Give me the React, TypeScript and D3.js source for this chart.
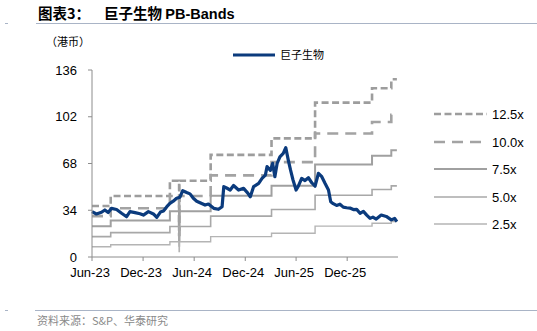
import React from "react";
import * as d3 from "d3";

// ---------- DATA ----------
const priceDates = [
  "2023-06-01","2023-06-17","2023-07-05","2023-07-17","2023-07-29","2023-08-10","2023-08-28","2023-09-15",
  "2023-10-03","2023-10-15","2023-11-02","2023-11-20","2023-12-02","2023-12-20","2024-01-07","2024-01-19",
  "2024-02-01","2024-02-12","2024-02-24","2024-03-06","2024-03-18","2024-03-30","2024-04-11","2024-04-21",
  "2024-05-05","2024-05-17","2024-05-29","2024-06-10","2024-06-22","2024-07-10","2024-07-22","2024-08-10",
  "2024-08-27","2024-09-09","2024-09-15","2024-09-27","2024-10-08","2024-10-20","2024-11-07","2024-11-25",
  "2024-12-10","2024-12-19","2024-12-31","2025-01-18","2025-01-30","2025-02-11","2025-02-17","2025-03-01",
  "2025-03-09","2025-03-17","2025-03-25","2025-04-04","2025-04-16","2025-04-25","2025-05-04","2025-05-12",
  "2025-05-21","2025-06-01","2025-06-09","2025-06-21","2025-07-03","2025-07-15","2025-07-27","2025-08-08",
  "2025-08-20","2025-09-01","2025-09-13","2025-09-25","2025-10-03","2025-10-12","2025-10-24","2025-11-05",
  "2025-11-17","2025-11-29","2025-12-11","2025-12-23","2026-01-04","2026-01-16","2026-01-28","2026-02-09",
  "2026-02-21","2026-03-03","2026-03-15","2026-04-02","2026-04-20","2026-05-08","2026-05-20","2026-05-28"
];
const priceValues = [
  33.0,31.3,32.5,34.2,32.3,35.4,34.5,31.8,
  29.3,33.0,32.3,31.5,30.5,33.0,31.3,28.8,
  32.7,33.5,36.6,39.0,40.6,42.7,43.5,48.2,
  46.9,45.9,42.7,40.6,39.5,37.8,38.5,35.4,
  34.7,36.6,51.2,50.0,48.7,52.0,48.7,49.9,
  46.5,43.8,51.2,53.6,57.2,59.6,65.7,63.0,
  68.1,58.4,68.0,72.9,75.4,79.5,70.5,63.3,
  56.0,48.7,51.5,57.2,55.6,57.7,54.0,51.5,
  60.9,58.4,53.4,48.7,40.2,38.8,37.5,38.4,
  36.3,35.8,35.6,34.5,34.6,31.8,33.2,30.5,
  28.1,29.0,27.6,30.5,29.5,27.0,28.0,25.7
];

// book value per share steps (HKD)
const bvpsDates = ["2023-06-01","2023-08-07","2024-03-06","2024-04-08","2024-04-09","2024-07-30","2025-03-05","2025-08-08","2026-02-28","2026-05-08","2026-05-28"];
const bvpsValues = [2.97, 3.55, 4.44, 1.6, 4.44, 5.94, 6.9, 8.98, 9.82, 10.34, 10.34];

const bandMultiples = [12.5, 10.0, 7.5, 5.0, 2.5];
const bandLabels = ["12.5x", "10.0x", "7.5x", "5.0x", "2.5x"];

const yTicks = [0, 34, 68, 102, 136];
const xTickDates = ["2023-06-01","2023-12-01","2024-06-01","2024-12-01","2025-06-01","2025-12-01"];
const xTickLabels = ["Jun-23","Dec-23","Jun-24","Dec-24","Jun-25","Dec-25"];

const seriesName = "巨子生物";
const titleText = "图表3：";
const titleName = "巨子生物 ";
const titleSuffix = "PB-Bands";
const unitText = "（港币）";
const sourceText = "资料来源：S&P、华泰研究";

// ---------- STYLES ----------
const bandStyles = [
  { stroke: "#9d9d9d", width: 2.6, dash: "7,3.5" },
  { stroke: "#a3a3a3", width: 2.6, dash: "11,7" },
  { stroke: "#a0a0a0", width: 2, dash: "" },
  { stroke: "#a8a8a8", width: 1.6, dash: "" },
  { stroke: "#b4b4b4", width: 1.4, dash: "" },
];
const priceColor = "#0b3b7d";
const FONT = "'Liberation Sans', Arial, sans-serif";
const CJK = "'Noto Sans CJK SC', 'Noto Sans', sans-serif";

export default function App() {
  const parse = d3.utcParse("%Y-%m-%d");
  const x = d3.scaleUtc()
    .domain([parse("2023-06-01")!, parse("2026-06-01")!])
    .range([92, 398]);
  const y = d3.scaleLinear().domain([0, 136]).range([257, 70]);

  const price = priceDates.map((d, i) => ({ d: parse(d)!, v: priceValues[i] }));
  const bvps = bvpsDates.map((d, i) => ({ d: parse(d)!, v: bvpsValues[i] }));

  const priceLine = d3.line<{ d: Date; v: number }>()
    .x((p) => x(p.d))
    .y((p) => y(p.v))
    .curve(d3.curveLinear);

  const bandLine = (m: number) =>
    d3.line<{ d: Date; v: number }>()
      .x((p) => x(p.d))
      .y((p) => y(p.v * m))
      .curve(d3.curveStepAfter)(bvps);

  const legendY = [114, 142, 169, 197, 224];

  return (
    <svg
      width={537}
      height={331}
      style={{ position: "absolute", left: 0, top: 0, background: "#fff" }}
      xmlns="http://www.w3.org/2000/svg"
    >
      {/* title */}
      <text x={38} y={19} fontSize={14.5} fontWeight="bold" fill="#000">
        <tspan fontFamily={CJK}>{titleText}</tspan>
        <tspan fontFamily={CJK} dx={14}>{titleName}</tspan>
        <tspan fontFamily={FONT}>{titleSuffix}</tspan>
      </text>
      <line x1={36} x2={537} y1={23.5} y2={23.5} stroke="#a9b4c6" strokeWidth={1} />
      <line x1={5} x2={8} y1={23.5} y2={23.5} stroke="#a9b4c6" strokeWidth={1} />

      {/* unit */}
      <text x={46} y={46} fontSize={11} fontFamily={CJK} fill="#000">{unitText}</text>

      {/* bands */}
      {bandMultiples.map((m, i) => (
        <path
          key={"b" + i}
          d={bandLine(m) || ""}
          fill="none"
          stroke={bandStyles[i].stroke}
          strokeWidth={bandStyles[i].width}
          strokeDasharray={bandStyles[i].dash || undefined}
        />
      ))}

      {/* price */}
      <path d={priceLine(price) || ""} fill="none" stroke={priceColor} strokeWidth={3.2} strokeLinejoin="round" />

      {/* axes */}
      <line x1={92} x2={92} y1={y(136)} y2={y(0)} stroke="#8c8c8c" strokeWidth={1} />
      {yTicks.map((t) => (
        <g key={"y" + t}>
          <line x1={88} x2={92} y1={y(t)} y2={y(t)} stroke="#8c8c8c" strokeWidth={1} />
          <text x={77} y={y(t)} dy="0.35em" textAnchor="end" fontSize={13} fontFamily={FONT} fill="#000">
            {t}
          </text>
        </g>
      ))}
      <line x1={92} x2={398} y1={257} y2={257} stroke="#8c8c8c" strokeWidth={1} />
      {xTickDates.map((d, i) => {
        const xx = x(parse(d)!);
        return (
          <g key={"x" + i}>
            <line x1={xx} x2={xx} y1={257} y2={261} stroke="#8c8c8c" strokeWidth={1} />
            <text x={xx - 2} y={277} textAnchor="middle" fontSize={13} fontFamily={FONT} fill="#000">
              {xTickLabels[i]}
            </text>
          </g>
        );
      })}

      {/* top legend */}
      <line x1={233} x2={275} y1={55} y2={55} stroke={priceColor} strokeWidth={3} />
      <text x={280} y={55} dy="0.35em" fontSize={11} fontFamily={CJK} fill="#000">{seriesName}</text>

      {/* right legend */}
      {bandLabels.map((lab, i) => (
        <g key={"l" + i}>
          <line
            x1={434}
            x2={487}
            y1={legendY[i]}
            y2={legendY[i]}
            stroke={bandStyles[i].stroke}
            strokeWidth={bandStyles[i].width}
            strokeDasharray={bandStyles[i].dash || undefined}
          />
          <text x={492} y={legendY[i]} dy="0.35em" fontSize={13} fontFamily={FONT} fill="#000">
            {lab}
          </text>
        </g>
      ))}

      {/* footer */}
      <line x1={35} x2={537} y1={310.5} y2={310.5} stroke="#a9b4c6" strokeWidth={1} />
      <line x1={5} x2={8} y1={310.5} y2={310.5} stroke="#a9b4c6" strokeWidth={1} />
      <text x={37} y={325} fontSize={11} fontFamily={CJK} fill="#8a8a8a">{sourceText}</text>
    </svg>
  );
}
